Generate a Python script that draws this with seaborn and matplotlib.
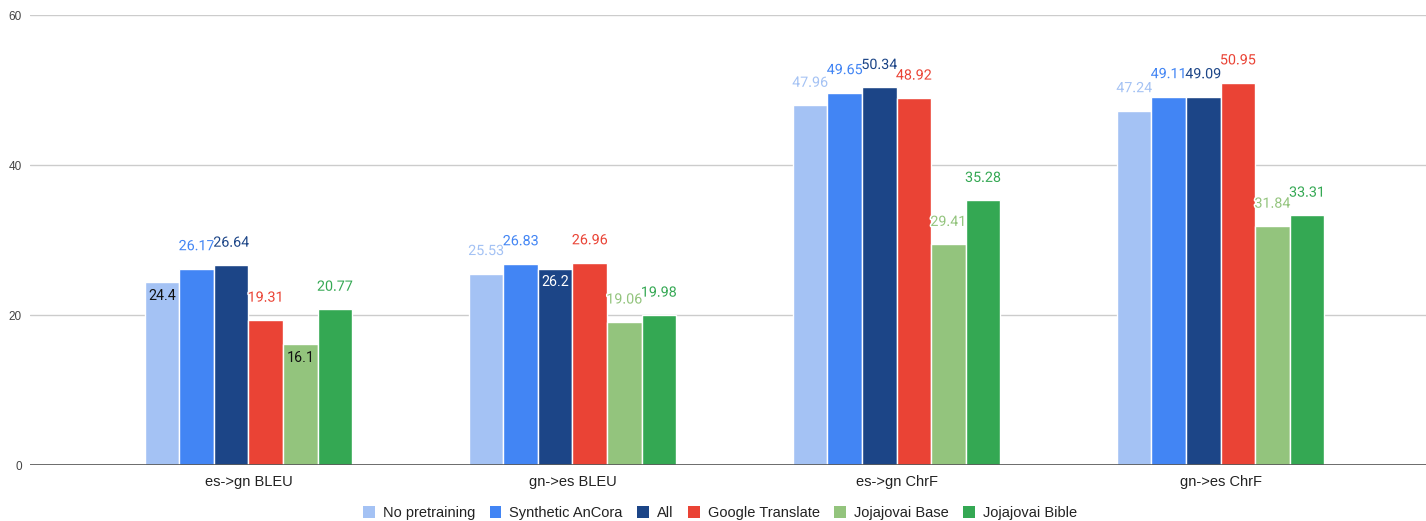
import matplotlib
matplotlib.use("Agg")
import matplotlib.pyplot as plt
import matplotlib.patheffects as pe
from matplotlib.patches import Patch
import seaborn as sns
import pandas as pd

# Scores per translation direction / metric for each training setup
metrics = ["es->gn BLEU", "gn->es BLEU", "es->gn ChrF", "gn->es ChrF"]
systems = ["No pretraining", "Synthetic AnCora", "All", "Google Translate",
           "Jojajovai Base", "Jojajovai Bible"]
no_pretraining = [24.4, 25.53, 47.96, 47.24]
synthetic_ancora = [26.17, 26.83, 49.65, 49.11]
all_data = [26.64, 26.2, 50.34, 49.09]
google_translate = [19.31, 26.96, 48.92, 50.95]
jojajovai_base = [16.1, 19.06, 29.41, 31.84]
jojajovai_bible = [20.77, 19.98, 35.28, 33.31]
y_ticks = [0, 20, 40, 60]

palette = ["#a4c2f4", "#4285f4", "#1c4587", "#ea4335", "#93c47d", "#34a853"]

series = [no_pretraining, synthetic_ancora, all_data, google_translate,
          jojajovai_base, jojajovai_bible]
rows = []
for name, vals in zip(systems, series):
    for m, v in zip(metrics, vals):
        rows.append({"metric": m, "system": name, "score": v})
df = pd.DataFrame(rows)

# labels drawn inside the bar top: (system index, metric index) -> text colour
inside_labels = {(0, 0): "#111111", (4, 0): "#111111", (2, 1): "#ffffff"}

sns.set_theme(style="white")
plt.rcParams["font.family"] = ["Roboto", "DejaVu Sans"]
arial_like = ["Liberation Sans", "DejaVu Sans"]

fig = plt.figure(figsize=(14.26, 5.21), dpi=100)
ax = fig.add_axes([30 / 1426, 56 / 521, 1396 / 1426, 450 / 521])

sns.barplot(data=df, x="metric", y="score", hue="system", order=metrics,
            hue_order=systems, palette=palette, width=0.64, saturation=1,
            edgecolor="white", linewidth=1.0, ax=ax, legend=False)

ax.set_ylim(0, 60)
ax.set_xlim(-0.674, 3.634)
ax.set_yticks(y_ticks)
ax.set_yticklabels([str(t) for t in y_ticks], fontsize=8.5, color="#444444",
                   family=arial_like)
ax.tick_params(axis="y", length=0, pad=6)
ax.tick_params(axis="x", length=0, pad=7, labelcolor="#222222")
for lbl in ax.get_xticklabels():
    lbl.set_family(arial_like)
    lbl.set_fontsize(10.5)
ax.set_xlabel("")
ax.set_ylabel("")
for s in ax.spines.values():
    s.set_visible(False)
ax.grid(axis="y", color="#cccccc", linewidth=1)
ax.axhline(0, color="#555555", linewidth=1.2, zorder=3)
ax.set_axisbelow(True)

for si, cont in enumerate(ax.containers):
    for mi, bar in enumerate(cont):
        val = series[si][mi]
        x = bar.get_x() + bar.get_width() / 2
        if (si, mi) in inside_labels:
            color = inside_labels[(si, mi)]
            dy = -10
            effects = []
        else:
            color = palette[si]
            dy = 16.2
            effects = [pe.withStroke(linewidth=2.2, foreground="white")]
        ax.annotate(f"{val:g}", (x, val), xytext=(0, dy),
                    textcoords="offset points", ha="center", va="center",
                    fontsize=10.3, color=color, path_effects=effects,
                    zorder=5, annotation_clip=False)

handles = [Patch(facecolor=c, edgecolor="none") for c in palette]
fig.legend(handles, systems, loc="center", bbox_to_anchor=(0.505, 8 / 521),
           ncol=6, frameon=False,
           prop={"family": arial_like, "size": 10.5},
           handlelength=0.8, handleheight=0.8, handletextpad=0.55,
           columnspacing=1.0, labelcolor="#222222")

fig.savefig("out.png", dpi=100)
